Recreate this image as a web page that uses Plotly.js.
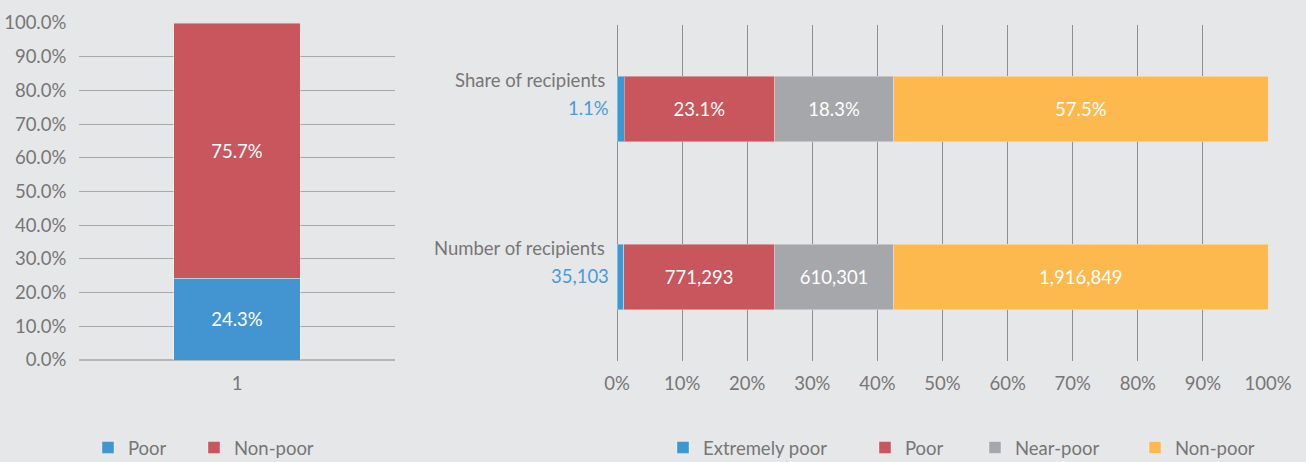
<!DOCTYPE html>
<html>
<head>
<meta charset="utf-8">
<script src="https://cdn.plot.ly/plotly-3.0.1.min.js"></script>
<style>
  html, body { margin: 0; padding: 0; background: #e6e7e9; }
  #chart { width: 1306px; height: 462px; }
</style>
</head>
<body>
<div id="chart"></div>
<script>
// ---- Left chart data ----
const leftCategories = ['1'];
const leftPoor = [24.3];
const leftNonPoor = [75.7];

// ---- Right chart data ----
const rightCategories = ['Number of recipients', 'Share of recipients'];
const extremelyPoor = [35103, 1.1];
const poor = [771293, 23.1];
const nearPoor = [610301, 18.3];
const nonPoor = [1916849, 57.5];

const FONT = 'Lato, "Open Sans", sans-serif';
const FS = 18.5;
const GREY = '#767676';
const C_BLUE = '#4395d1';
const C_RED = '#c9565d';
const C_GREY = '#a6a7aa';
const C_YELLOW = '#fdb94d';
const outline = {color: 'rgba(255,255,255,0.35)', width: 1};

function fmtRight(v, i) {
  // row 0 is counts, row 1 is shares
  return i === 0 ? v.toLocaleString('en-US') : v.toFixed(1) + '%';
}

const inText = {color: '#ffffff', size: FS, family: FONT};

const traces = [
  {
    type: 'bar', name: 'Poor', x: leftCategories, y: leftPoor,
    xaxis: 'x', yaxis: 'y', legend: 'legend',
    marker: {color: C_BLUE, line: outline}, width: 0.4,
    text: leftPoor.map(v => v.toFixed(1) + '%'),
    textposition: 'inside', insidetextanchor: 'middle', textangle: 0, textfont: inText
  },
  {
    type: 'bar', name: 'Non-poor', x: leftCategories, y: leftNonPoor,
    xaxis: 'x', yaxis: 'y', legend: 'legend2',
    marker: {color: C_RED, line: outline}, width: 0.4,
    text: leftNonPoor.map(v => v.toFixed(1) + '%'),
    textposition: 'inside', insidetextanchor: 'middle', textangle: 0, textfont: inText
  },
  {
    type: 'bar', orientation: 'h', name: 'Extremely poor', y: rightCategories, x: extremelyPoor,
    xaxis: 'x2', yaxis: 'y2', legend: 'legend3',
    marker: {color: '#3a98d3', line: outline}, width: 0.39,
    textposition: 'none'
  },
  {
    type: 'bar', orientation: 'h', name: 'Poor', y: rightCategories, x: poor,
    xaxis: 'x2', yaxis: 'y2', legend: 'legend4',
    marker: {color: C_RED, line: outline}, width: 0.39,
    text: poor.map(fmtRight),
    textposition: 'inside', insidetextanchor: 'middle', textangle: 0, textfont: inText
  },
  {
    type: 'bar', orientation: 'h', name: 'Near-poor', y: rightCategories, x: nearPoor,
    xaxis: 'x2', yaxis: 'y2', legend: 'legend5',
    marker: {color: C_GREY, line: outline}, width: 0.39,
    text: nearPoor.map(fmtRight),
    textposition: 'inside', insidetextanchor: 'middle', textangle: 0, textfont: inText
  },
  {
    type: 'bar', orientation: 'h', name: 'Non-poor', y: rightCategories, x: nonPoor,
    xaxis: 'x2', yaxis: 'y2', legend: 'legend6',
    marker: {color: C_YELLOW, line: outline}, width: 0.39,
    text: nonPoor.map(fmtRight),
    textposition: 'inside', insidetextanchor: 'middle', textangle: 0, textfont: inText
  }
];

const annotations = [];
rightCategories.forEach((cat, i) => {
  annotations.push({
    xref: 'x2', yref: 'y2', x: 0, y: cat, xanchor: 'right', yanchor: 'middle',
    xshift: -10, yshift: 29, showarrow: false, text: cat,
    font: {family: FONT, size: FS, color: GREY}
  });
  annotations.push({
    xref: 'x2', yref: 'y2', x: 0, y: cat, xanchor: 'right', yanchor: 'middle',
    xshift: -6, yshift: 1, showarrow: false, text: fmtRight(extremelyPoor[i], i),
    font: {family: FONT, size: FS, color: '#4a9ad6'}
  });
});

function leg(textStartPx) {
  return {
    orientation: 'h', x: (textStartPx - 40) / 1306, xanchor: 'left',
    y: (462 - 448) / 462, yanchor: 'middle',
    bgcolor: 'rgba(0,0,0,0)', font: {family: FONT, size: FS, color: GREY},
    itemwidth: 30
  };
}

const layout = {
  width: 1306, height: 462,
  margin: {l: 0, r: 0, t: 0, b: 0, autoexpand: false},
  paper_bgcolor: '#e6e7e9', plot_bgcolor: '#e6e7e9',
  font: {family: FONT, size: FS, color: GREY},
  barmode: 'stack', barnorm: 'percent',
  hovermode: false,
  showlegend: true,
  xaxis: {
    domain: [79/1306, 395/1306], anchor: 'y', type: 'category',
    showgrid: false, zeroline: false, showline: false,
    ticks: 'outside', ticklen: 7, tickcolor: 'rgba(0,0,0,0)',
    tickfont: {family: FONT, size: FS, color: GREY}, fixedrange: true
  },
  yaxis: {
    domain: [(462-360)/462, (462-23)/462], anchor: 'x',
    range: [0, 100], dtick: 10, tick0: 0,
    tickformat: '.1f', ticksuffix: '%',
    showgrid: true, gridcolor: '#a8a8a8', gridwidth: 1,
    zeroline: true, zerolinecolor: '#b5b5b5', zerolinewidth: 1.5,
    showline: false, ticks: 'outside', ticklen: 8, tickcolor: 'rgba(0,0,0,0)',
    tickfont: {family: FONT, size: FS, color: GREY}, fixedrange: true
  },
  xaxis2: {
    domain: [617/1306, 1268/1306], anchor: 'y2',
    range: [0, 100], dtick: 10, tick0: 0, ticksuffix: '%',
    showgrid: true, gridcolor: '#8f8f8f', gridwidth: 1,
    zeroline: true, zerolinecolor: '#8f8f8f', zerolinewidth: 1,
    showline: false, ticks: 'outside', ticklen: 6, tickcolor: 'rgba(0,0,0,0)',
    tickfont: {family: FONT, size: FS, color: GREY}, fixedrange: true
  },
  yaxis2: {
    domain: [(462-361)/462, (462-25)/462], anchor: 'x2', type: 'category',
    range: [-0.5, 1.5], showticklabels: false,
    showgrid: false, zeroline: false, showline: false, fixedrange: true
  },
  legend: leg(128),
  legend2: leg(234),
  legend3: leg(703),
  legend4: leg(905),
  legend5: leg(1015),
  legend6: leg(1175),
  annotations: annotations
};

Plotly.newPlot('chart', traces, layout, {displayModeBar: false, staticPlot: true});
</script>
</body>
</html>
